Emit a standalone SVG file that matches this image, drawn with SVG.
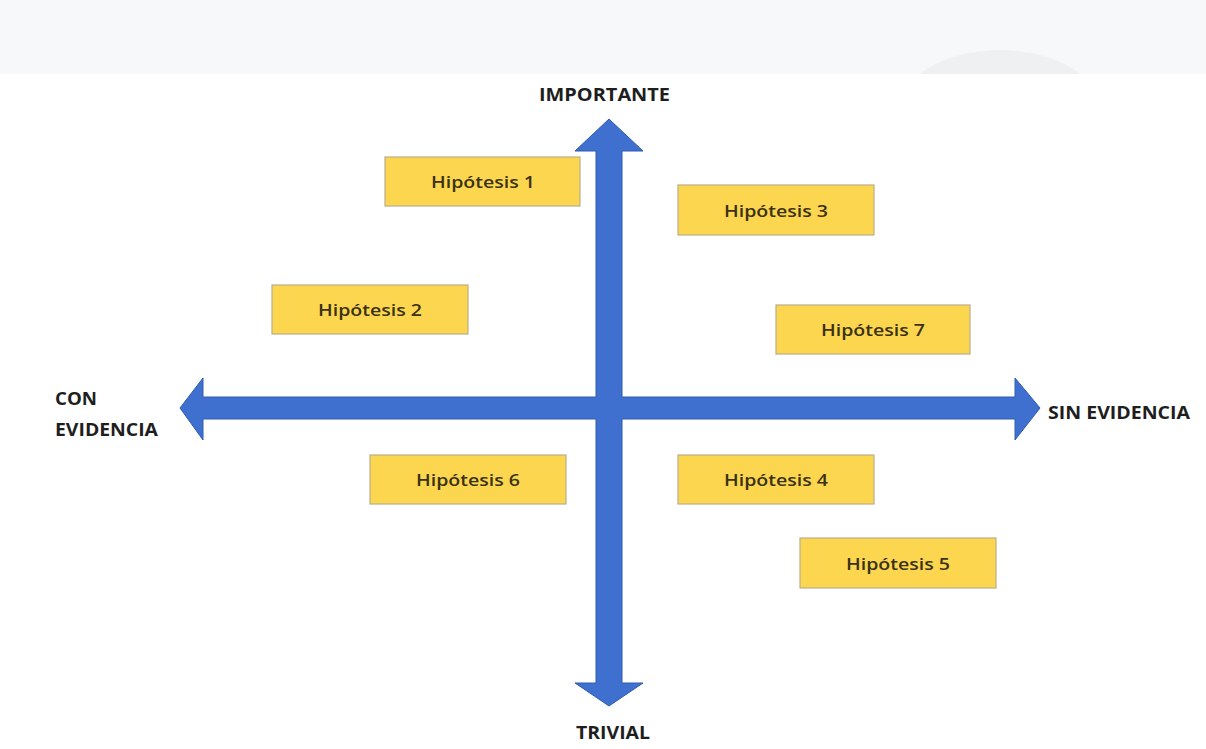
<svg xmlns="http://www.w3.org/2000/svg" width="1206" height="749" viewBox="0 0 1206 749">
<style>
.box{fill:#FDD64F;stroke:#B9AD8A;stroke-width:1.2}
.bt{font-family:"Open Sans","Liberation Sans",sans-serif;font-size:17px;font-weight:600;fill:#3A3214;text-anchor:middle;dominant-baseline:central}
.lab{font-family:"Open Sans","Liberation Sans",sans-serif;font-size:17px;font-weight:bold;fill:#1E1E1E}
.ax{fill:#3F70CF;stroke:#2F5CB0;stroke-width:1}
</style>
<rect width="1206" height="749" fill="#ffffff"/>
<rect x="0" y="0" width="1206" height="74" fill="#F7F8F9"/>
<ellipse cx="1000" cy="110" rx="100" ry="60" fill="#EEF0F2"/>
<rect x="0" y="74" width="1206" height="675" fill="#ffffff"/>
<g id="connectors">
<polygon class="ax" points="609,119 643,151 622,151 622,397 1015,397 1015,378 1040,408 1015,440 1015,419 622,419 622,683 643,683 609,706 575,683 596,683 596,419 203,419 203,440 180,408 203,378 203,397 596,397 596,151 575,151"/>
</g>
<g id="h1"><rect class="box" x="385" y="157" width="195" height="49"/><text class="bt" x="483" y="181" textLength="104" lengthAdjust="spacingAndGlyphs">Hipótesis 1</text></g>
<g id="h3"><rect class="box" x="678" y="185" width="196" height="50"/><text class="bt" x="776" y="210" textLength="104" lengthAdjust="spacingAndGlyphs">Hipótesis 3</text></g>
<g id="h2"><rect class="box" x="272" y="285" width="196" height="49"/><text class="bt" x="370" y="309" textLength="104" lengthAdjust="spacingAndGlyphs">Hipótesis 2</text></g>
<g id="h7"><rect class="box" x="776" y="305" width="194" height="49"/><text class="bt" x="873" y="329" textLength="104" lengthAdjust="spacingAndGlyphs">Hipótesis 7</text></g>
<g id="h6"><rect class="box" x="370" y="455" width="196" height="49"/><text class="bt" x="468" y="479" textLength="104" lengthAdjust="spacingAndGlyphs">Hipótesis 6</text></g>
<g id="h4"><rect class="box" x="678" y="455" width="196" height="49"/><text class="bt" x="776" y="479" textLength="104" lengthAdjust="spacingAndGlyphs">Hipótesis 4</text></g>
<g id="h5"><rect class="box" x="800" y="538" width="196" height="50"/><text class="bt" x="898" y="563" textLength="104" lengthAdjust="spacingAndGlyphs">Hipótesis 5</text></g>
<g id="labels">
<text class="lab" x="539" y="101" textLength="131" lengthAdjust="spacingAndGlyphs">IMPORTANTE</text>
<text class="lab" x="55" y="405" textLength="42" lengthAdjust="spacingAndGlyphs">CON</text>
<text class="lab" x="55" y="436" textLength="103" lengthAdjust="spacingAndGlyphs">EVIDENCIA</text>
<text class="lab" x="1048" y="419" textLength="142" lengthAdjust="spacingAndGlyphs">SIN EVIDENCIA</text>
<text class="lab" x="576" y="739" textLength="74" lengthAdjust="spacingAndGlyphs">TRIVIAL</text>
</g>
</svg>
